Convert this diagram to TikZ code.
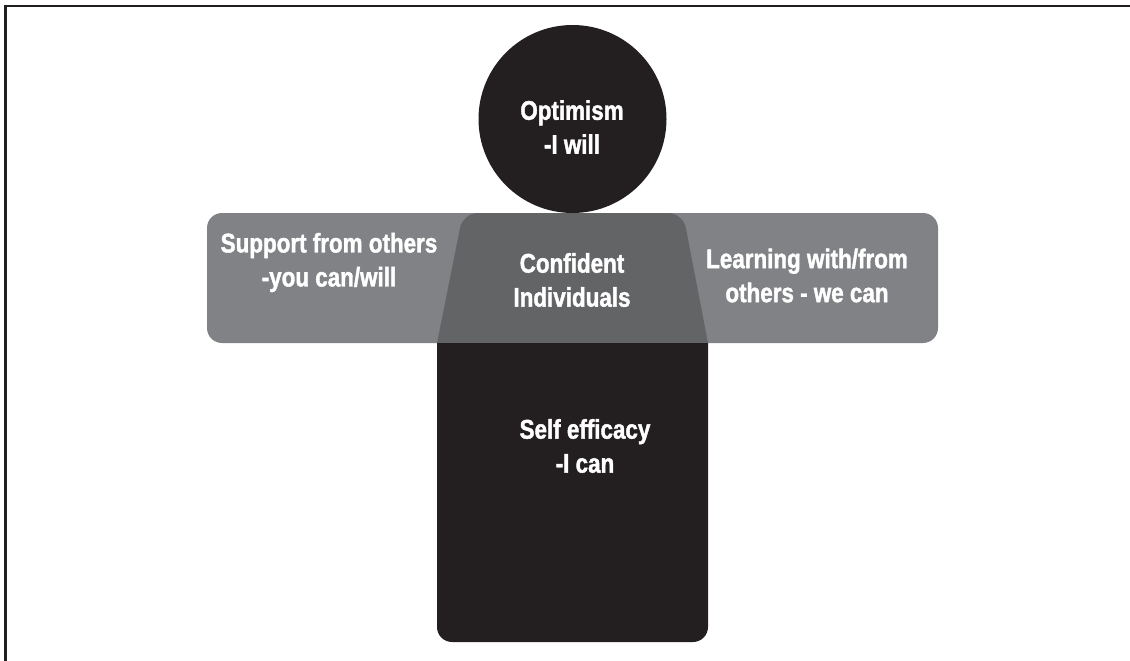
\documentclass[tikz,border=0pt]{standalone}
\usepackage{fontspec}
\newfontfamily\cond{Liberation Sans}[FakeStretch=0.83, BoldFeatures={FakeBold=1.5}]
\definecolor{barc}{HTML}{808285}
\definecolor{trapc}{HTML}{636466}
\definecolor{blk}{HTML}{231F20}
\tikzset{
  lbl/.style={text=white, align=center, inner sep=0pt, anchor=center,
    font=\cond\bfseries\fontsize{27}{34}\selectfont},
}
\begin{document}
\begin{tikzpicture}[x=1pt,y=-1pt]
\useasboundingbox (0,0) rectangle (1130,661);
% frame
\draw[blk, line width=2.6pt] (5.5,661) -- (5.5,6) -- (1130,6);
% arms
\fill[barc, rounded corners=15pt] (207,213) rectangle (938,343);
% torso (trapezoid)
\fill[trapc] (437,343) [rounded corners=15pt] -- (463,213) -- (683,213) [sharp corners] -- (708,343) -- cycle;
% body
\fill[blk] (437,343) [rounded corners=15pt] -- (437,642) -- (708,642) [sharp corners] -- (708,343) -- cycle;
% head
\node[circle, fill=blk, minimum size=188pt, inner sep=0pt] (head) at (572.5,119) {};
% labels
\node[lbl] (opt) at (572,127) {Optimism\\-I will};
\node[lbl] (conf) at (572,280) {Confident\\Individuals};
\node[lbl] (sup) at (329,262.5) {Support from others\\-you can/will};
\node[lbl] (learn) at (807,275.5) {Learning with/from\\others - we can};
\node[lbl] (self) at (585,446) {Self efficacy\\-I can};
\end{tikzpicture}
\end{document}
